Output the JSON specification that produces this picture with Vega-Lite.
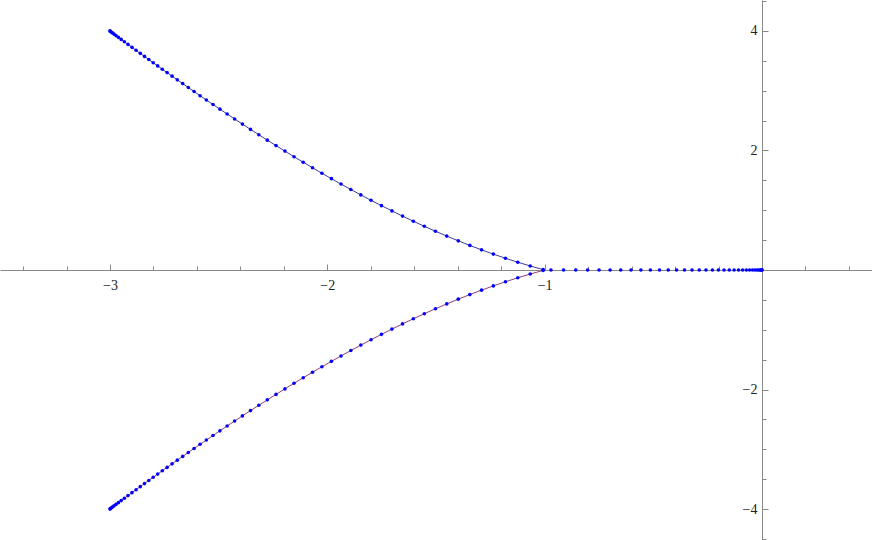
{
  "$schema": "https://vega.github.io/schema/vega-lite/v6.json",
  "width": 872,
  "height": 540,
  "autosize": {"type": "none"},
  "padding": 0,
  "config": {"view": {"stroke": null}},
  "data": {"values": [
    {"b":"u","i":0,"x":-3.0,"y":4.0},{"b":"u","i":1,"x":-2.9982,"y":3.9912},{"b":"u","i":2,"x":-2.9945,"y":3.9812},{"b":"u","i":3,"x":-2.989,"y":3.9664},{"b":"u","i":4,"x":-2.9816,"y":3.9465},{"b":"u","i":5,"x":-2.9724,"y":3.9218},{"b":"u","i":6,"x":-2.9613,"y":3.892},{"b":"u","i":7,"x":-2.9485,"y":3.8578},{"b":"u","i":8,"x":-2.9337,"y":3.8182},{"b":"u","i":9,"x":-2.9172,"y":3.7742},
    {"b":"u","i":10,"x":-2.8988,"y":3.7253},{"b":"u","i":11,"x":-2.8799,"y":3.6752},{"b":"u","i":12,"x":-2.8606,"y":3.6242},{"b":"u","i":13,"x":-2.8412,"y":3.5731},{"b":"u","i":14,"x":-2.8214,"y":3.5211},{"b":"u","i":15,"x":-2.8012,"y":3.4683},{"b":"u","i":16,"x":-2.7805,"y":3.4143},{"b":"u","i":17,"x":-2.7593,"y":3.3592},{"b":"u","i":18,"x":-2.7372,"y":3.3021},{"b":"u","i":19,"x":-2.7142,"y":3.2429},
    {"b":"u","i":20,"x":-2.6903,"y":3.1816},{"b":"u","i":21,"x":-2.6654,"y":3.1181},{"b":"u","i":22,"x":-2.6397,"y":3.0529},{"b":"u","i":23,"x":-2.613,"y":2.9855},{"b":"u","i":24,"x":-2.5854,"y":2.9163},{"b":"u","i":25,"x":-2.5564,"y":2.844},{"b":"u","i":26,"x":-2.526,"y":2.7688},{"b":"u","i":27,"x":-2.4942,"y":2.6907},{"b":"u","i":28,"x":-2.4611,"y":2.61},{"b":"u","i":29,"x":-2.4266,"y":2.5267},
    {"b":"u","i":30,"x":-2.3907,"y":2.4409},{"b":"u","i":31,"x":-2.3534,"y":2.3526},{"b":"u","i":32,"x":-2.3152,"y":2.2632},{"b":"u","i":33,"x":-2.2761,"y":2.1727},{"b":"u","i":34,"x":-2.2361,"y":2.0813},{"b":"u","i":35,"x":-2.1951,"y":1.9888},{"b":"u","i":36,"x":-2.1532,"y":1.8956},{"b":"u","i":37,"x":-2.1109,"y":1.803},{"b":"u","i":38,"x":-2.0681,"y":1.7107},{"b":"u","i":39,"x":-2.0249,"y":1.6191},
    {"b":"u","i":40,"x":-1.9811,"y":1.5278},{"b":"u","i":41,"x":-1.937,"y":1.4376},{"b":"u","i":42,"x":-1.8919,"y":1.3472},{"b":"u","i":43,"x":-1.8458,"y":1.2567},{"b":"u","i":44,"x":-1.7989,"y":1.1666},{"b":"u","i":45,"x":-1.751,"y":1.0768},{"b":"u","i":46,"x":-1.7027,"y":0.9886},{"b":"u","i":47,"x":-1.6539,"y":0.9018},{"b":"u","i":48,"x":-1.6042,"y":0.816},{"b":"u","i":49,"x":-1.5536,"y":0.7313},
    {"b":"u","i":50,"x":-1.5025,"y":0.6486},{"b":"u","i":51,"x":-1.4505,"y":0.5674},{"b":"u","i":52,"x":-1.3976,"y":0.488},{"b":"u","i":53,"x":-1.3442,"y":0.4111},{"b":"u","i":54,"x":-1.2904,"y":0.337},{"b":"u","i":55,"x":-1.2361,"y":0.2658},{"b":"u","i":56,"x":-1.1804,"y":0.1966},{"b":"u","i":57,"x":-1.1238,"y":0.1304},{"b":"u","i":58,"x":-1.0667,"y":0.0677},{"b":"u","i":59,"x":-1.007,"y":0.0068},
    {"b":"l","i":0,"x":-3.0,"y":-4.0},{"b":"l","i":1,"x":-2.9982,"y":-3.9912},{"b":"l","i":2,"x":-2.9945,"y":-3.9812},{"b":"l","i":3,"x":-2.989,"y":-3.9664},{"b":"l","i":4,"x":-2.9816,"y":-3.9465},{"b":"l","i":5,"x":-2.9724,"y":-3.9218},{"b":"l","i":6,"x":-2.9613,"y":-3.892},{"b":"l","i":7,"x":-2.9485,"y":-3.8578},{"b":"l","i":8,"x":-2.9337,"y":-3.8182},{"b":"l","i":9,"x":-2.9172,"y":-3.7742},
    {"b":"l","i":10,"x":-2.8988,"y":-3.7253},{"b":"l","i":11,"x":-2.8799,"y":-3.6752},{"b":"l","i":12,"x":-2.8606,"y":-3.6242},{"b":"l","i":13,"x":-2.8412,"y":-3.5731},{"b":"l","i":14,"x":-2.8214,"y":-3.5211},{"b":"l","i":15,"x":-2.8012,"y":-3.4683},{"b":"l","i":16,"x":-2.7805,"y":-3.4143},{"b":"l","i":17,"x":-2.7593,"y":-3.3592},{"b":"l","i":18,"x":-2.7372,"y":-3.3021},{"b":"l","i":19,"x":-2.7142,"y":-3.2429},
    {"b":"l","i":20,"x":-2.6903,"y":-3.1816},{"b":"l","i":21,"x":-2.6654,"y":-3.1181},{"b":"l","i":22,"x":-2.6397,"y":-3.0529},{"b":"l","i":23,"x":-2.613,"y":-2.9855},{"b":"l","i":24,"x":-2.5854,"y":-2.9163},{"b":"l","i":25,"x":-2.5564,"y":-2.844},{"b":"l","i":26,"x":-2.526,"y":-2.7688},{"b":"l","i":27,"x":-2.4942,"y":-2.6907},{"b":"l","i":28,"x":-2.4611,"y":-2.61},{"b":"l","i":29,"x":-2.4266,"y":-2.5267},
    {"b":"l","i":30,"x":-2.3907,"y":-2.4409},{"b":"l","i":31,"x":-2.3534,"y":-2.3526},{"b":"l","i":32,"x":-2.3152,"y":-2.2632},{"b":"l","i":33,"x":-2.2761,"y":-2.1727},{"b":"l","i":34,"x":-2.2361,"y":-2.0813},{"b":"l","i":35,"x":-2.1951,"y":-1.9888},{"b":"l","i":36,"x":-2.1532,"y":-1.8956},{"b":"l","i":37,"x":-2.1109,"y":-1.803},{"b":"l","i":38,"x":-2.0681,"y":-1.7107},{"b":"l","i":39,"x":-2.0249,"y":-1.6191},
    {"b":"l","i":40,"x":-1.9811,"y":-1.5278},{"b":"l","i":41,"x":-1.937,"y":-1.4376},{"b":"l","i":42,"x":-1.8919,"y":-1.3472},{"b":"l","i":43,"x":-1.8458,"y":-1.2567},{"b":"l","i":44,"x":-1.7989,"y":-1.1666},{"b":"l","i":45,"x":-1.751,"y":-1.0768},{"b":"l","i":46,"x":-1.7027,"y":-0.9886},{"b":"l","i":47,"x":-1.6539,"y":-0.9018},{"b":"l","i":48,"x":-1.6042,"y":-0.816},{"b":"l","i":49,"x":-1.5536,"y":-0.7313},
    {"b":"l","i":50,"x":-1.5025,"y":-0.6486},{"b":"l","i":51,"x":-1.4505,"y":-0.5674},{"b":"l","i":52,"x":-1.3976,"y":-0.488},{"b":"l","i":53,"x":-1.3442,"y":-0.4111},{"b":"l","i":54,"x":-1.2904,"y":-0.337},{"b":"l","i":55,"x":-1.2361,"y":-0.2658},{"b":"l","i":56,"x":-1.1804,"y":-0.1966},{"b":"l","i":57,"x":-1.1238,"y":-0.1304},{"b":"l","i":58,"x":-1.0667,"y":-0.0677},{"b":"l","i":59,"x":-1.007,"y":-0.0068},
    {"b":"r","i":0,"x":0,"y":0},{"b":"r","i":1,"x":-0.00089,"y":0},{"b":"r","i":2,"x":-0.00357,"y":0},{"b":"r","i":3,"x":-0.00803,"y":0},{"b":"r","i":4,"x":-0.01427,"y":0},{"b":"r","i":5,"x":-0.02229,"y":0},{"b":"r","i":6,"x":-0.0321,"y":0},{"b":"r","i":7,"x":-0.04369,"y":0},{"b":"r","i":8,"x":-0.05707,"y":0},{"b":"r","i":9,"x":-0.07223,"y":0},
    {"b":"r","i":10,"x":-0.08917,"y":0},{"b":"r","i":11,"x":-0.10789,"y":0},{"b":"r","i":12,"x":-0.1284,"y":0},{"b":"r","i":13,"x":-0.15069,"y":0},{"b":"r","i":14,"x":-0.17477,"y":0},{"b":"r","i":15,"x":-0.20063,"y":0},{"b":"r","i":16,"x":-0.22827,"y":0},{"b":"r","i":17,"x":-0.2577,"y":0},{"b":"r","i":18,"x":-0.28891,"y":0},{"b":"r","i":19,"x":-0.3219,"y":0},
    {"b":"r","i":20,"x":-0.35667,"y":0},{"b":"r","i":21,"x":-0.39323,"y":0},{"b":"r","i":22,"x":-0.43157,"y":0},{"b":"r","i":23,"x":-0.4717,"y":0},{"b":"r","i":24,"x":-0.51361,"y":0},{"b":"r","i":25,"x":-0.5573,"y":0},{"b":"r","i":26,"x":-0.60278,"y":0},{"b":"r","i":27,"x":-0.65003,"y":0},{"b":"r","i":28,"x":-0.69908,"y":0},{"b":"r","i":29,"x":-0.7499,"y":0},
    {"b":"r","i":30,"x":-0.80251,"y":0},{"b":"r","i":31,"x":-0.85691,"y":0},{"b":"r","i":32,"x":-0.91308,"y":0},{"b":"r","i":33,"x":-0.97104,"y":0}
  ]},
  "resolve": {"axis": {"x": "independent", "y": "independent"}},
  "layer": [
    {
      "transform": [{"filter": "datum.b !== 'r'"}],
      "mark": {"type": "line", "strokeWidth": 1},
      "encoding": {
        "x": {"field": "x", "type": "quantitative",
          "scale": {"domain": [-3.506, 0.506], "nice": false, "zero": false},
          "axis": {"orient": "bottom", "offset": -270, "values": [-3, -2, -1], "tickSize": -6, "labelPadding": 14,
            "title": null, "grid": false, "domainColor": "#888888", "tickColor": "#888888", "tickWidth": 1, "domainWidth": 1,
            "labelFont": "Liberation Serif, Times New Roman, DejaVu Serif, serif", "labelFontSize": 14, "labelColor": "#222222", "labelBaseline": "top"}},
        "y": {"field": "y", "type": "quantitative",
          "scale": {"domain": [-4.517, 4.517], "nice": false, "zero": false},
          "axis": {"orient": "left", "offset": -762, "values": [-4, -2, 2, 4], "tickSize": -6, "labelPadding": 11,
            "title": null, "grid": false, "domainColor": "#888888", "tickColor": "#888888", "tickWidth": 1, "domainWidth": 1,
            "labelFont": "Liberation Serif, Times New Roman, DejaVu Serif, serif", "labelFontSize": 14, "labelColor": "#222222"}},
        "color": {"field": "b", "type": "nominal", "scale": {"domain": ["u", "l"], "range": ["#3D3D99", "#993D74"]}, "legend": null},
        "order": {"field": "i", "type": "quantitative"}
      }
    },
    {
      "mark": {"type": "point", "filled": true, "size": 13, "color": "#0000FF", "opacity": 1},
      "encoding": {
        "x": {"field": "x", "type": "quantitative",
          "axis": {"orient": "bottom", "offset": -270, "values": [-3.4, -3.2, -2.8, -2.6, -2.4, -2.2, -1.8, -1.6, -1.4, -1.2, -0.8, -0.6, -0.4, -0.2, 0.2, 0.4],
            "tickSize": -4, "labels": false, "domain": false, "title": null, "grid": false, "tickColor": "#888888", "tickWidth": 1}},
        "y": {"field": "y", "type": "quantitative",
          "axis": {"orient": "left", "offset": -762, "values": [-4.5, -3.5, -3, -2.5, -1.5, -1, -0.5, 0.5, 1, 1.5, 2.5, 3, 3.5, 4.5],
            "tickSize": -4, "labels": false, "domain": false, "title": null, "grid": false, "tickColor": "#888888", "tickWidth": 1}}
      }
    }
  ]
}
